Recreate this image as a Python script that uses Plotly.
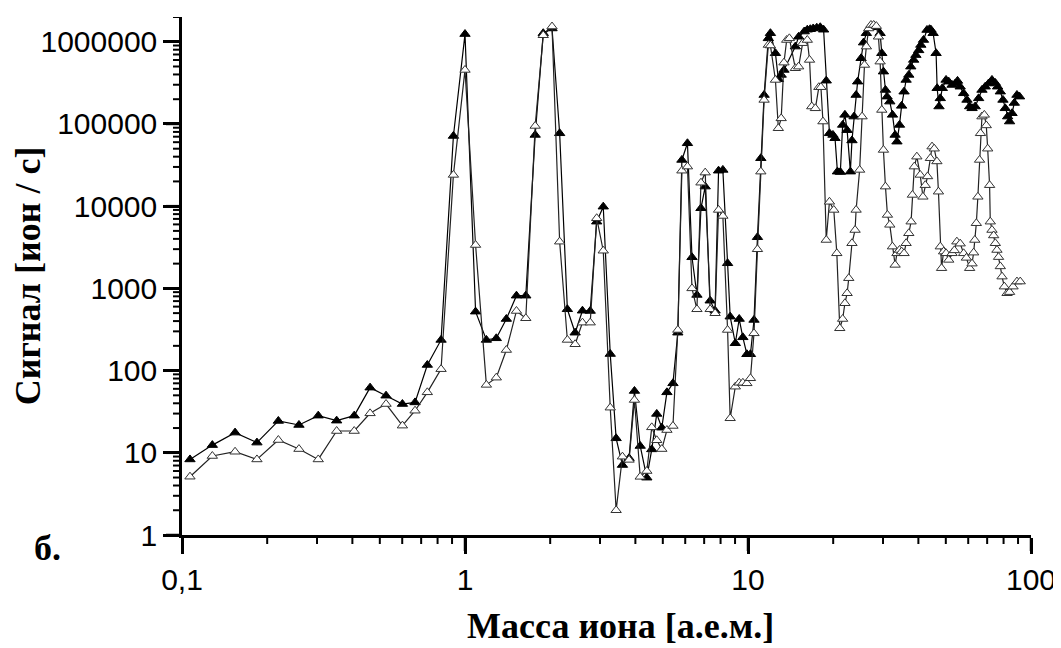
import plotly.graph_objects as go

# ---- data (mass in a.m.u., signal in ions/s) ----
mass_filled = [
    0.1067, 0.128, 0.154, 0.184, 0.219, 0.259, 0.303, 0.352, 0.406, 0.462,
    0.526, 0.601, 0.666, 0.736, 0.823, 0.910, 1.00, 1.09, 1.19, 1.29,
    1.40, 1.52, 1.64, 1.77, 1.89, 2.03, 2.16, 2.30, 2.45, 2.60,
    2.77, 2.92, 3.08, 3.26, 3.42, 3.60, 3.80, 3.97, 4.16, 4.39,
    4.57, 4.76, 4.96, 5.17, 5.43, 5.65, 5.84, 6.11, 6.34, 6.60,
    6.82, 7.06, 7.35, 7.65, 7.87, 8.15, 8.47, 8.65, 9.02, 9.31,
    9.59, 9.91, 10.2, 10.5, 10.8, 11.1, 11.4, 11.8, 12.0, 12.5,
    12.8, 13.1, 13.4, 14.7, 15.1, 15.8, 16.2, 16.6, 17.0, 17.5,
    18.0, 18.5, 18.9, 19.4, 19.96, 20.3, 20.7, 21.2, 21.6, 22.0,
    22.4, 23.0, 23.3, 23.7, 24.1, 24.4, 25.1, 25.6, 26.2, 27.0,
    28.2, 29.3, 29.7, 30.1, 30.6, 31.0, 31.7, 32.4, 33.1, 33.6,
    34.3, 34.9, 35.6, 36.2, 37.0, 37.6, 38.5, 39.2, 40.1, 40.8,
    41.7, 42.9, 43.8, 44.3, 45.1, 46.2, 46.6, 47.3, 47.8, 48.6,
    50.1, 51.2, 52.6, 54.0, 55.0, 56.2, 57.8, 59.4, 60.7, 61.9,
    63.5, 65.3, 67.1, 68.9, 70.8, 72.8, 74.8, 76.2, 77.9, 79.6,
    81.1, 82.7, 84.0, 85.7, 87.3, 89.2, 91.1,
]
signal_filled = [
    8.3, 12.4, 17.6, 13.3, 24.4, 21.8, 28.3, 24.6, 28.3, 62,
    49.5, 39.2, 41, 117, 236, 71400, 1240000, 521, 236, 247,
    424, 815, 815, 73500, 1270000, 1450000, 77000, 557, 289, 535,
    531, 6480, 9860, 159, 15, 7.1, 8.6, 56.5, 12.1, 4.98,
    11, 29.7, 20.2, 54.4, 70, 289, 36500, 58200, 2390, 832,
    9430, 17300, 708, 535, 27000, 27600, 2020, 453, 215, 424,
    254, 158, 158, 413, 4190, 38300, 225000, 1100000, 1270000, 725000,
    350000, 395000, 454000, 873000, 1150000, 1330000, 1400000, 1420000, 1450000, 1480000,
    1500000, 1400000, 336000, 77000, 73500, 67000, 26300, 26000, 97300, 129000,
    84000, 26300, 63000, 123000, 225000, 327000, 630000, 976000, 1270000, 1500000,
    1500000, 1270000, 725000, 433000, 259000, 215000, 187000, 129000, 73500, 60900,
    97300, 166000, 247000, 343000, 395000, 498000, 601000, 688000, 786000, 914000,
    1050000, 1390000, 1420000, 1400000, 1270000, 725000, 272000, 163000, 205000, 272000,
    343000, 327000, 298000, 310000, 334000, 284000, 236000, 196000, 163000, 155000,
    163000, 205000, 259000, 284000, 310000, 343000, 315000, 284000, 247000, 196000,
    155000, 123000, 107000, 135000, 180000, 225000, 215000,
]

mass_open = [
    0.1067, 0.128, 0.154, 0.184, 0.219, 0.259, 0.303, 0.352, 0.406, 0.462,
    0.526, 0.601, 0.666, 0.736, 0.823, 0.910, 1.00, 1.09, 1.19, 1.29,
    1.40, 1.52, 1.64, 1.77, 1.89, 2.03, 2.16, 2.30, 2.45, 2.60,
    2.77, 2.92, 3.08, 3.26, 3.42, 3.60, 3.80, 3.97, 4.16, 4.39,
    4.57, 4.76, 4.96, 5.17, 5.43, 5.65, 5.84, 6.11, 6.34, 6.60,
    6.82, 7.06, 7.35, 7.65, 7.87, 8.15, 8.47, 8.65, 9.02, 9.31,
    9.59, 9.91, 10.2, 10.5, 10.8, 11.1, 11.4, 11.8, 12.0, 12.5,
    12.8, 13.1, 13.4, 13.7, 14.0, 14.7, 15.1, 15.6, 16.2, 16.5,
    16.8, 17.3, 17.8, 18.1, 18.4, 18.9, 19.4, 20.1, 20.6, 21.1,
    21.6, 22.0, 22.4, 22.7, 23.3, 23.9, 24.1, 24.8, 25.3, 25.8,
    26.2, 26.7, 27.2, 27.8, 28.4, 28.9, 29.3, 29.7, 30.1, 30.6,
    31.1, 31.7, 32.4, 33.1, 33.6, 34.3, 34.9, 35.6, 36.2, 37.0,
    37.7, 38.1, 38.7, 39.5, 40.6, 41.5, 42.3, 43.1, 44.1, 44.7,
    45.5, 46.5, 47.1, 47.8, 48.3, 49.1, 50.1, 51.2, 52.6, 53.6,
    54.7, 56.2, 57.8, 59.1, 60.7, 61.9, 62.7, 63.3, 64.1, 64.9,
    65.8, 66.3, 67.1, 68.4, 69.5, 70.3, 71.4, 71.8, 72.8, 73.8,
    74.8, 75.8, 76.8, 77.9, 79.0, 80.5, 82.3, 84.0, 86.4, 89.2,
    91.6,
]
signal_open = [
    5.12, 9.14, 10.3, 8.3, 14.3, 11.1, 8.3, 18.4, 18.4, 30.2,
    39.2, 21.4, 32.5, 54.4, 104, 24000, 454000, 3370, 67, 82,
    178, 531, 433, 94600, 1200000, 1530000, 3700, 236, 209, 383,
    383, 7130, 2870, 35.4, 2.0, 8.97, 8.2, 43.9, 5.1, 6.0,
    20.4, 14.2, 11.1, 18.9, 21.2, 312, 27000, 30300, 1000, 557,
    19300, 25600, 557, 498, 9000, 7600, 312, 26.3, 63.7, 71,
    71, 70, 80.6, 284, 2990, 26300, 196000, 914000, 900000, 343000,
    88700, 117000, 557000, 1050000, 1100000, 476000, 498000, 960000, 1050000, 601000,
    163000, 155000, 280000, 280000, 107000, 3880, 11300, 9000, 2670, 327,
    424, 659, 872, 1330, 3540, 5130, 9000, 27600, 123000, 522000,
    873000, 1450000, 1600000, 1600000, 1550000, 1150000, 573000, 148000, 48300, 17300,
    7820, 5930, 3220, 1930, 2670, 2930, 2800, 2670, 3540, 4680,
    6480, 13700, 30300, 40000, 24000, 13000, 18000, 23000, 38300, 53000,
    50000, 35000, 15000, 3220, 1760, 2800, 2670, 2220, 2670, 2900,
    3700, 3500, 2670, 2350, 1760, 2000, 2720, 3880, 6200, 13000,
    36500, 77000, 123000, 129000, 96000, 50000, 18000, 6480, 5130, 4400,
    3540, 2930, 2400, 1850, 1390, 1050, 872, 900, 1050, 1210,
    1210,
]

x_tickvals = [0.1, 1, 10, 100]
x_ticktext = ["0,1", "1", "10", "100"]
y_tickvals = [1, 10, 100, 1000, 10000, 100000, 1000000]
y_ticktext = ["1", "10", "100", "1000", "10000", "100000", "1000000"]

x_title = "Масса иона [а.е.м.]"
y_title = "Сигнал [ион / с]"
panel_label = "б."

# minor log ticks (2..9 in every decade)
x_minor = [k * 10.0 ** e for e in range(-1, 2) for k in range(2, 10)]
y_minor = [k * 10.0 ** e for e in range(0, 7) for k in range(2, 10) if k * 10.0 ** e <= 2.0e6]

X_RANGE = [-1, 2]
Y_RANGE = [0, 6.30103]

# plot-area size in pixels (used to express tick lengths as paper fractions)
MARGIN = dict(l=174, r=30, t=9, b=113)
FIG_W, FIG_H = 1053, 640
PLOT_W = FIG_W - MARGIN["l"] - MARGIN["r"]
PLOT_H = FIG_H - MARGIN["t"] - MARGIN["b"]
MAJOR_LEN, MINOR_LEN = 16, 9

fig = go.Figure()
fig.add_trace(go.Scatter(
    x=mass_filled, y=signal_filled, mode="lines+markers",
    line=dict(color="black", width=1.2),
    marker=dict(symbol="triangle-up", size=9, color="black",
                line=dict(color="black", width=1)),
    showlegend=False,
))
fig.add_trace(go.Scatter(
    x=mass_open, y=signal_open, mode="lines+markers",
    line=dict(color="#222222", width=1.2),
    marker=dict(symbol="triangle-up", size=9, color="white",
                line=dict(color="#333333", width=1)),
    showlegend=False,
))

tick_font = dict(family="Liberation Sans, Arial, sans-serif", size=30, color="black")

fig.update_layout(
    template="none",
    xaxis=dict(type="log", range=X_RANGE, showgrid=False, zeroline=False,
               showline=True, linecolor="black", linewidth=2.5,
               ticks="outside", ticklen=MAJOR_LEN, tickwidth=2.5, tickcolor="black",
               tickfont=tick_font, tickmode="array",
               tickvals=x_tickvals, ticktext=x_ticktext),
    yaxis=dict(type="log", range=Y_RANGE, showgrid=False, zeroline=False,
               showline=True, linecolor="black", linewidth=2.5,
               ticks="outside", ticklen=MAJOR_LEN, tickwidth=2.5, tickcolor="black",
               tickfont=tick_font, tickmode="array",
               tickvals=y_tickvals, ticktext=y_ticktext),
)

# axis tick marks drawn as shapes (this plotly version takes raw data values on log axes)
def x_tick(v, length, width):
    fig.add_shape(type="line", xref="x", yref="paper",
                  x0=v, x1=v, y0=0, y1=-length / PLOT_H,
                  line=dict(color="black", width=width), layer="above")

def y_tick(v, length, width):
    fig.add_shape(type="line", xref="paper", yref="y",
                  x0=0, x1=-length / PLOT_W, y0=v, y1=v,
                  line=dict(color="black", width=width), layer="above")

for v in x_tickvals:
    x_tick(v, MAJOR_LEN, 2.5)
for v in x_minor:
    x_tick(v, MINOR_LEN, 2)
for v in y_tickvals:
    y_tick(v, MAJOR_LEN, 2.5)
for v in y_minor:
    y_tick(v, MINOR_LEN, 2)

title_font = dict(family="Liberation Serif, Times New Roman, serif", size=36, color="black")
fig.add_annotation(text="<b>" + x_title + "</b>", xref="paper", yref="paper",
                   x=0.516, y=-0.175, showarrow=False, font=title_font,
                   xanchor="center", yanchor="middle")
fig.add_annotation(text="<b>" + y_title + "</b>", xref="paper", yref="paper",
                   x=-0.181, y=0.50, showarrow=False, font=title_font,
                   textangle=-90, xanchor="center", yanchor="middle")
fig.add_annotation(text="<b>" + panel_label + "</b>", xref="paper", yref="paper",
                   x=-0.158, y=-0.025, showarrow=False, font=title_font,
                   xanchor="center", yanchor="middle")

# page body has an 8px margin: shift margins so the plot area lands where the reference has it
fig.update_layout(
    width=FIG_W, height=FIG_H,
    margin=MARGIN,
    paper_bgcolor="white", plot_bgcolor="white",
)

fig.write_html("out.html")
